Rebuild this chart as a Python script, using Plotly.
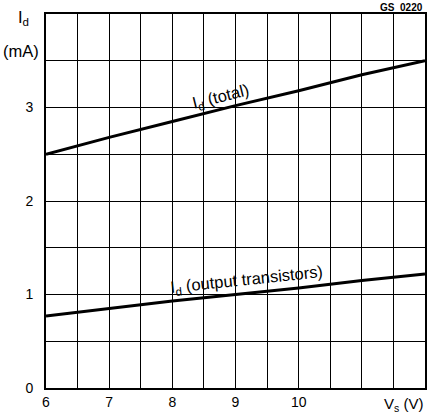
import plotly.graph_objects as go

vs = [6, 7, 8, 9, 10, 11, 12]
id_total = [2.5, 2.68, 2.85, 3.02, 3.18, 3.35, 3.5]
id_output = [0.77, 0.85, 0.93, 1.0, 1.07, 1.15, 1.22]

x_tickvals = [6, 7, 8, 9, 10]
x_ticktext = ["6", "7", "8", "9", "10"]
y_tickvals = [0, 1, 2, 3]
y_ticktext = ["0", "1", "2", "3"]

fam = "Liberation Sans, Arial, sans-serif"
font = dict(family=fam, size=14, color="black")
lab_font = dict(family=fam, size=16.5, color="black")
grid_minor = dict(dtick=0.5, showgrid=True, gridcolor="black", gridwidth=1.4, ticks="")

fig = go.Figure()
fig.add_trace(go.Scatter(x=vs, y=id_total, mode="lines",
                         line=dict(color="black", width=3), showlegend=False))
fig.add_trace(go.Scatter(x=vs, y=id_output, mode="lines",
                         line=dict(color="black", width=3), showlegend=False))

fig.update_layout(
    width=429, height=418,
    margin=dict(l=46, r=2, t=14, b=30),
    paper_bgcolor="white", plot_bgcolor="white",
    font=font,
    xaxis=dict(range=[6, 12], tickmode="array", tickvals=x_tickvals, ticktext=x_ticktext,
               showgrid=True, gridcolor="black", gridwidth=1.4, minor=grid_minor,
               showline=True, linecolor="black", linewidth=2, mirror=True,
               zeroline=False, ticks="", tickfont=font),
    yaxis=dict(range=[0, 4], tickmode="array", tickvals=y_tickvals, ticktext=y_ticktext,
               showgrid=True, gridcolor="black", gridwidth=1.4, minor=grid_minor,
               showline=True, linecolor="black", linewidth=2, mirror=True,
               zeroline=False, ticks="", tickfont=font, ticklabelstandoff=8),
)

annotations = [
    dict(x=8.77, y=3.11, xref="x", yref="y", text="I<sub>d</sub> (total)",
         showarrow=False, textangle=-14, font=lab_font),
    dict(x=9.17, y=1.16, xref="x", yref="y", text="I<sub>d</sub> (output transistors)",
         showarrow=False, textangle=-6, font=lab_font),
    dict(x=1.0, y=1.0, xref="paper", yref="paper", text="<b>GS  0220</b>",
         showarrow=False, xanchor="right", yanchor="bottom", yshift=-1,
         font=dict(family=fam, size=10, color="black")),
    dict(x=-0.06, y=1.0, xref="paper", yref="paper", text="I<sub>d</sub>",
         showarrow=False, xanchor="center", yanchor="middle", yshift=-4, font=lab_font),
    dict(x=-0.065, y=0.9, xref="paper", yref="paper", text="(mA)",
         showarrow=False, xanchor="center", yanchor="middle", font=lab_font),
    dict(x=1.0, y=0, xref="paper", yref="paper", text="V<sub>s</sub> (V)",
         showarrow=False, xanchor="right", yanchor="top", yshift=-5,
         font=dict(family=fam, size=15, color="black")),
]
fig.update_layout(annotations=annotations)

fig.write_html("out.html", config={"displayModeBar": False},
               post_script="document.body.style.margin='0';")
